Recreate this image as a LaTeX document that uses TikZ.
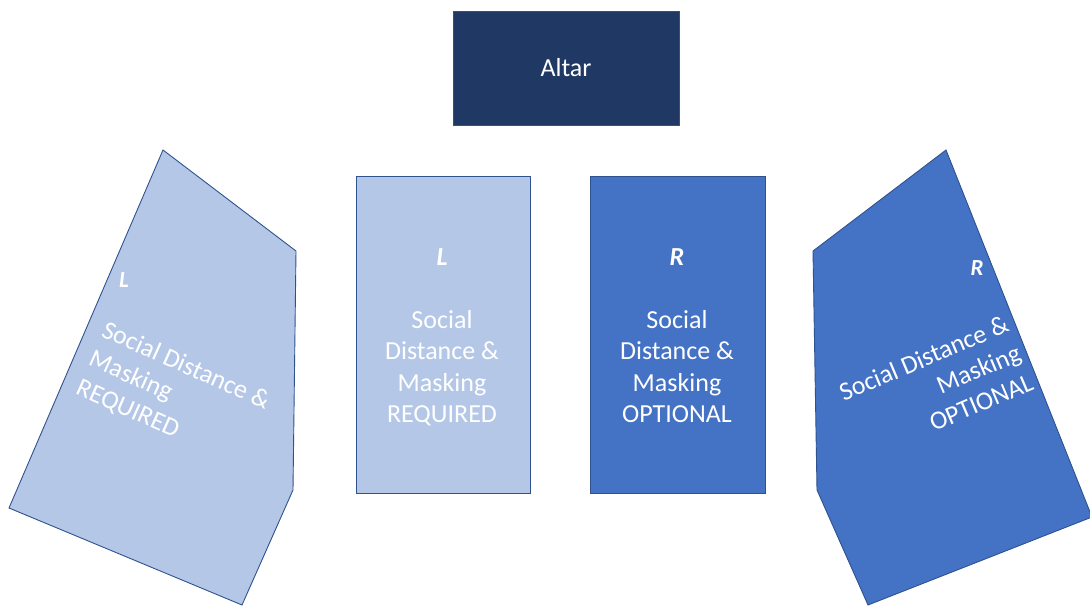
\documentclass[tikz,border=0pt]{standalone}
\usepackage{fontspec}
\setmainfont{Carlito}
\definecolor{navy}{HTML}{203864}
\definecolor{lightseat}{HTML}{B4C7E7}
\definecolor{midseat}{HTML}{4472C4}
\definecolor{edge}{HTML}{2F528F}
\begin{document}
\begin{tikzpicture}[x=1pt,y=-1pt]
\tikzset{
  seat/.style={draw=edge, line width=0.9pt, line join=miter},
  seattext/.style={text=white, font=\fontsize{26}{31.5}\selectfont, inner sep=0pt},
  sideletter/.style={text=white, font=\fontsize{23}{27}\selectfont\bfseries\itshape, inner sep=0pt}
}
\useasboundingbox (0,0) rectangle (1090,607);
% altar
\path[seat, fill=navy] (453,11) rectangle (679,125);
\node[seattext] (altar) at (566,68) {Altar};
% left wing
\path[seat, fill=lightseat] (163,150) -- (296,251) -- (293,490) -- (242,605) -- (9,508) -- cycle;
\node[sideletter] (lwl) at (124,280) {L};
\node[seattext, rotate=-24, align=left] (lwtext) at (173,395) {Social Distance \&\\Masking\\REQUIRED};
% middle left
\path[seat, fill=lightseat] (356,176) rectangle (530,493);
\node[seattext, anchor=north, align=center] (mltext) at (442,248) {\textbf{\textit{L}}\\[31.5pt]Social\\Distance \&\\Masking\\REQUIRED};
% middle right
\path[seat, fill=midseat] (590,176) rectangle (765,493);
\node[seattext, anchor=north, align=center] (mrtext) at (677,248) {\textbf{\textit{R}}\\[31.5pt]Social\\Distance \&\\Masking\\OPTIONAL};
% right wing
\path[seat, fill=midseat] (946,150) -- (1092,517) -- (868,605) -- (817,490) -- (813,251) -- cycle;
\node[sideletter] (rwr) at (977,268) {R};
\node[seattext, rotate=23, align=right] (rwtext) at (936,387) {Social Distance \&\\Masking\\OPTIONAL};
\end{tikzpicture}
\end{document}
